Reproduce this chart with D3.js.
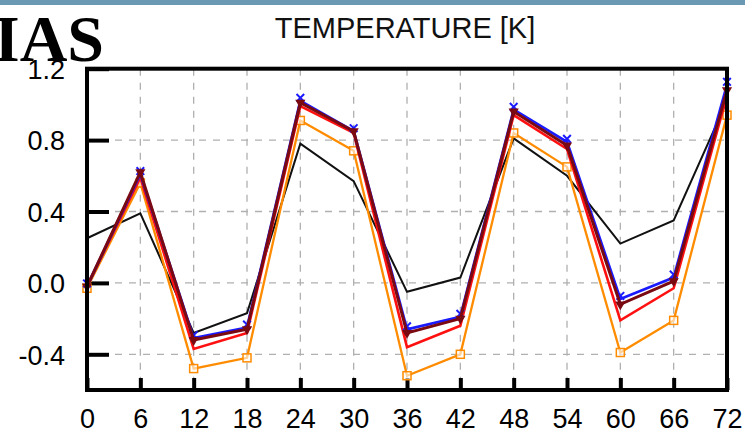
<!DOCTYPE html>
<html><head><meta charset="utf-8">
<script src="https://cdn.jsdelivr.net/npm/d3@7"></script>
<style>body{margin:0;background:#fff}svg{display:block}</style>
</head><body>
<script>
const hours = [0,6,12,18,24,30,36,42,48,54,60,66,72];
const yTicks = [-0.4,0.0,0.4,0.8,1.2];
const blackVals  = [0.25,0.39,-0.28,-0.17,0.78,0.57,-0.05,0.03,0.81,0.60,0.22,0.35,1.02];
const orangeVals = [-0.03,0.56,-0.48,-0.42,0.91,0.74,-0.52,-0.40,0.84,0.65,-0.39,-0.21,0.94];
const redVals    = [-0.02,0.59,-0.37,-0.28,0.99,0.84,-0.36,-0.24,0.94,0.75,-0.21,-0.03,1.05];
const blueVals   = [-0.02,0.61,-0.31,-0.25,1.02,0.85,-0.26,-0.19,0.97,0.79,-0.09,0.03,1.11];
const maroonVals = [-0.02,0.62,-0.32,-0.26,1.01,0.85,-0.28,-0.20,0.96,0.77,-0.12,0.01,1.08];

const W=745,H=435;
const svg=d3.select("body").append("svg").attr("width",W).attr("height",H);
const x=d3.scaleLinear().domain([0,72]).range([87,727]);
const y=d3.scaleLinear().domain([-0.6,1.2]).range([390,68.7]);
const FONT="Liberation Sans, Arial, sans-serif";

svg.append("rect").attr("x",0).attr("y",0).attr("width",W).attr("height",5).attr("fill","#6b98b3");

// grid
const grid=svg.append("g").attr("stroke","#b0b0b0").attr("stroke-width",1.3).attr("stroke-dasharray","7,7");
hours.slice(1,-1).forEach(h=>grid.append("line").attr("x1",x(h)).attr("x2",x(h)).attr("y1",y(1.2)).attr("y2",y(-0.6)));
yTicks.slice(0,-1).forEach(v=>grid.append("line").attr("x1",x(0)).attr("x2",x(72)).attr("y1",y(v)).attr("y2",y(v)));

// axes
const yAxis=d3.axisLeft(y).tickValues(yTicks).tickSize(-22).tickPadding(22);
const gy=svg.append("g").attr("transform",`translate(${x(0)},0)`).call(yAxis);
gy.select(".domain").remove();
gy.selectAll(".tick line").attr("stroke","#000").attr("stroke-width",4);
gy.selectAll(".tick text").attr("font-family",FONT).attr("font-size",27).attr("fill","#000").attr("dy","0.36em").text(d=>d3.format(".1f")(d).replace("−","-"));
const xAxis=d3.axisBottom(x).tickValues(hours).tickFormat(d3.format("d")).tickSize(-12).tickPadding(36);
const gx=svg.append("g").attr("transform",`translate(0,${y(-0.6)})`).call(xAxis);
gx.select(".domain").remove();
gx.selectAll(".tick line").attr("stroke","#000").attr("stroke-width",4);
gx.selectAll(".tick text").attr("font-family",FONT).attr("font-size",27).attr("fill","#000").attr("dy","0").attr("y",38);

// series
const line=d3.line().x((d,i)=>x(hours[i])).y(d=>y(d));
const series=[
 {v:blackVals,c:"#111",w:2,m:null},
 {v:orangeVals,c:"#ff8c00",w:2.3,m:"square"},
 {v:redVals,c:"#ff1010",w:2.6,m:null},
 {v:blueVals,c:"#1a1aff",w:2.8,m:"times"},
 {v:maroonVals,c:"#7a0a12",w:3,m:"tri"}
];
series.forEach(s=>{
  svg.append("path").datum(s.v).attr("d",line).attr("fill","none").attr("stroke",s.c).attr("stroke-width",s.w).attr("stroke-linejoin","miter");
  if(s.m==="square"){
    svg.append("g").selectAll("rect").data(s.v).join("rect")
      .attr("x",(d,i)=>x(hours[i])-4).attr("y",d=>y(d)-4).attr("width",8).attr("height",8)
      .attr("fill","#fff").attr("fill-opacity",0.6).attr("stroke",s.c).attr("stroke-width",1.5);
  } else if(s.m==="times"){
    svg.append("g").selectAll("path").data(s.v).join("path")
      .attr("transform",(d,i)=>`translate(${x(hours[i])},${y(d)-3})`)
      .attr("d",d3.symbol(d3.symbolTimes,40)()).attr("fill","none").attr("stroke",s.c).attr("stroke-width",2);
  } else if(s.m==="tri"){
    svg.append("g").selectAll("path").data(s.v).join("path")
      .attr("transform",(d,i)=>`translate(${x(hours[i])},${y(d)}) rotate(180)`)
      .attr("d",d3.symbol(d3.symbolTriangle,45)()).attr("fill",s.c);
  }
});

// frame
svg.append("rect").attr("x",x(0)).attr("y",y(1.2)).attr("width",x(72)-x(0)).attr("height",y(-0.6)-y(1.2))
  .attr("fill","none").attr("stroke","#000").attr("stroke-width",4);

svg.append("text").attr("x",405).attr("y",38).attr("text-anchor","middle")
  .attr("font-family",FONT).attr("font-size",29).attr("fill","#111").text("TEMPERATURE [K]");
svg.append("text").attr("x",-6).attr("y",61)
  .attr("font-family","Liberation Serif, Times New Roman, serif").attr("font-weight","bold").attr("font-size",66).attr("fill","#000").text("IAS");
</script>
</body></html>
